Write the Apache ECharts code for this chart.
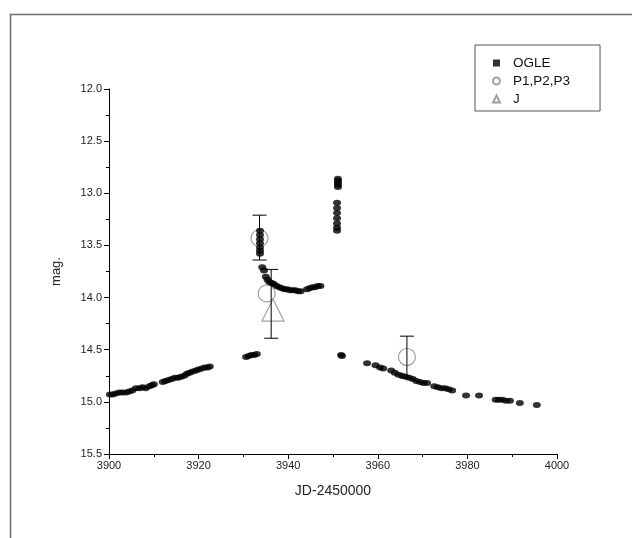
<!DOCTYPE html>
<html>
<head>
<meta charset="utf-8">
<script src="https://cdn.jsdelivr.net/npm/echarts@6/dist/echarts.min.js"></script>
<style>
  html, body { margin: 0; padding: 0; background: #fff; }
  #chart { width: 632px; height: 538px; }
</style>
</head>
<body>
<div id="chart"></div>
<script>
// OGLE light curve points [JD-2450000, mag]
const ogleData = [
  [3900.2, 14.93], [3900.8, 14.93], [3901.5, 14.92], [3902.3, 14.91], [3903.0, 14.91],
  [3903.8, 14.91], [3904.5, 14.90], [3905.2, 14.89], [3906.0, 14.87], [3906.8, 14.87],
  [3907.5, 14.86], [3908.2, 14.87], [3909.0, 14.85], [3909.6, 14.84], [3910.0, 14.83],
  [3912.0, 14.81], [3912.6, 14.80], [3913.3, 14.79], [3914.0, 14.78], [3914.7, 14.77],
  [3915.4, 14.77], [3916.1, 14.76], [3916.8, 14.75], [3917.4, 14.73], [3918.0, 14.72],
  [3918.7, 14.71], [3919.4, 14.70], [3920.0, 14.69], [3920.7, 14.68], [3921.4, 14.67],
  [3922.0, 14.67], [3922.5, 14.66],
  [3930.6, 14.57], [3931.2, 14.56], [3931.8, 14.55], [3932.4, 14.55], [3933.0, 14.54],
  [3933.7, 13.36], [3933.7, 13.40], [3933.7, 13.44], [3933.7, 13.48], [3933.7, 13.52],
  [3933.7, 13.55], [3933.7, 13.58],
  [3934.2, 13.71], [3934.6, 13.74], [3935.0, 13.80], [3935.4, 13.83], [3935.8, 13.85],
  [3936.3, 13.86], [3936.8, 13.87], [3937.4, 13.89], [3938.0, 13.90], [3938.6, 13.91],
  [3939.2, 13.92], [3939.8, 13.92], [3940.4, 13.93], [3941.0, 13.93], [3941.6, 13.93],
  [3942.2, 13.94], [3942.8, 13.94], [3944.2, 13.92], [3944.8, 13.91], [3945.4, 13.90],
  [3946.0, 13.90], [3946.6, 13.89], [3947.2, 13.89],
  [3951.1, 12.86], [3951.1, 12.88], [3951.1, 12.90], [3951.1, 12.92], [3951.1, 12.94],
  [3950.9, 13.09], [3950.9, 13.14], [3950.9, 13.19], [3950.9, 13.24], [3950.9, 13.29],
  [3950.9, 13.33], [3950.9, 13.36],
  [3951.8, 14.55], [3952.0, 14.56],
  [3957.6, 14.63], [3959.5, 14.65], [3960.5, 14.67], [3961.2, 14.68], [3963.0, 14.70],
  [3963.8, 14.72], [3964.6, 14.74], [3965.4, 14.75], [3966.2, 14.76], [3967.0, 14.77],
  [3967.8, 14.78], [3968.6, 14.80], [3969.4, 14.81], [3970.2, 14.82], [3971.0, 14.82],
  [3972.6, 14.85], [3973.4, 14.86], [3974.2, 14.87], [3975.0, 14.87], [3975.8, 14.88],
  [3976.6, 14.89], [3979.7, 14.94], [3982.6, 14.94], [3986.3, 14.98], [3987.0, 14.98],
  [3987.8, 14.98], [3988.6, 14.99], [3989.5, 14.99], [3991.7, 15.01], [3995.5, 15.03]
];

// P1,P2,P3 points
const pData = [[3933.6, 13.43], [3935.2, 13.96], [3966.5, 14.57]];
// J point
const jData = [[3936.6, 14.12]];
// error bars [x, upper mag, lower mag]
const errData = [[3933.6, 13.21, 13.64], [3936.2, 13.73, 14.39], [3966.5, 14.37, 14.77]];

const xTicks = { min: 3900, max: 4000, step: 20 };
const yTicks = { min: 12, max: 15.5, step: 0.5 };

const font = 'Liberation Sans, Arial, sans-serif';
const chart = echarts.init(document.getElementById('chart'));

chart.setOption({
  animation: false,
  backgroundColor: '#fff',
  graphic: [{
    type: 'rect',
    left: 8, top: 12,
    shape: { width: 660, height: 560 },
    style: { fill: 'none', stroke: '#6e6e6e', lineWidth: 1.5 },
    silent: true
  }],
  grid: { left: 109, right: 75, top: 89, bottom: 84 },
  legend: {
    orient: 'vertical',
    left: 475, top: 45,
    borderColor: '#555', borderWidth: 1,
    padding: [11, 30, 5, 17],
    itemGap: 4,
    itemWidth: 7, itemHeight: 7,
    textStyle: { fontFamily: font, fontSize: 13.5, color: '#111', padding: [0, 0, 0, 8] },
    data: [
      { name: 'OGLE', icon: 'rect' },
      { name: 'P1,P2,P3', icon: 'circle' },
      { name: 'J', icon: 'triangle' }
    ]
  },
  xAxis: {
    type: 'value',
    min: xTicks.min, max: xTicks.max, interval: xTicks.step,
    name: 'JD-2450000',
    nameLocation: 'middle', nameGap: 30,
    nameTextStyle: { fontFamily: font, fontSize: 14, color: '#222' },
    axisLine: { lineStyle: { color: '#000', width: 1 } },
    axisTick: { length: 5, lineStyle: { color: '#000' } },
    minorTick: { show: true, splitNumber: 2, length: 3, lineStyle: { color: '#000' } },
    axisLabel: { fontFamily: font, fontSize: 11, color: '#222', margin: 6,
      formatter: v => String(v) },
    splitLine: { show: false }
  },
  yAxis: {
    type: 'value',
    inverse: true,
    min: yTicks.min, max: yTicks.max, interval: yTicks.step,
    name: 'mag.',
    nameLocation: 'middle', nameGap: 46,
    nameTextStyle: { fontFamily: font, fontSize: 13, color: '#222' },
    axisLine: { show: true, lineStyle: { color: '#000', width: 1 } },
    axisTick: { show: true, length: 5, lineStyle: { color: '#000' } },
    minorTick: { show: true, splitNumber: 2, length: 3, lineStyle: { color: '#000' } },
    axisLabel: { fontFamily: font, fontSize: 11, color: '#222', margin: 7,
      formatter: v => v.toFixed(1) },
    splitLine: { show: false }
  },
  series: [
    {
      name: 'P1,P2,P3',
      type: 'scatter',
      data: pData,
      symbol: 'circle',
      symbolSize: 17,
      itemStyle: { color: '#fff', borderColor: '#8a8a8a', borderWidth: 1.2 },
      z: 2
    },
    {
      name: 'J',
      type: 'scatter',
      data: jData,
      symbol: 'triangle',
      symbolSize: 22,
      itemStyle: { color: 'rgba(255,255,255,0)', borderColor: '#8a8a8a', borderWidth: 1.2 },
      z: 2
    },
    {
      name: 'err',
      type: 'custom',
      data: errData,
      z: 3,
      renderItem: (params, api) => {
        const top = api.coord([api.value(0), api.value(1)]);
        const bot = api.coord([api.value(0), api.value(2)]);
        const half = 7;
        const st = { stroke: '#000', lineWidth: 1 };
        return {
          type: 'group',
          children: [
            { type: 'line', shape: { x1: top[0], y1: top[1], x2: bot[0], y2: bot[1] }, style: st },
            { type: 'line', shape: { x1: top[0] - half, y1: top[1], x2: top[0] + half, y2: top[1] }, style: st },
            { type: 'line', shape: { x1: bot[0] - half, y1: bot[1], x2: bot[0] + half, y2: bot[1] }, style: st }
          ]
        };
      }
    },
    {
      name: 'OGLE',
      type: 'scatter',
      data: ogleData,
      symbol: 'circle',
      symbolSize: [8, 6],
      itemStyle: { color: '#000' },
      z: 4
    }
  ]
});
</script>
</body>
</html>
